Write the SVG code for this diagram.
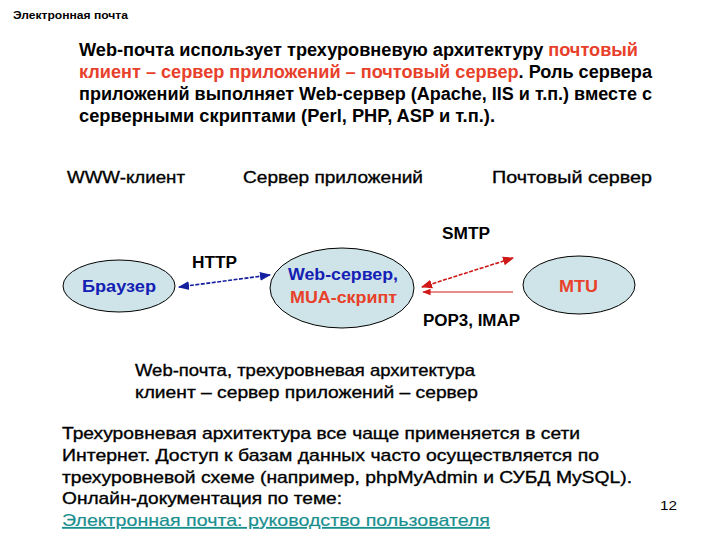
<svg xmlns="http://www.w3.org/2000/svg" width="720" height="540" viewBox="0 0 720 540">
<defs>
<style>
text{font-family:"Liberation Sans",Arial,sans-serif;fill:#000}
.b{font-weight:bold}
.p{font-size:18px;font-weight:bold}
.red{fill:#e8402a}
.lbl{font-size:17px;stroke:#000;stroke-width:0.35}
.node{fill:#cfe4e8;stroke:#000;stroke-width:1}
.blue{fill:#1420b4}
.nr{fill:#e8402a}
.link{fill:#1a8f8f;stroke:#1a8f8f;stroke-width:0.2;text-decoration:underline}
</style>
<marker id="ab" viewBox="0 0 10 10" refX="9" refY="5" markerWidth="7" markerHeight="7" orient="auto-start-reverse"><path d="M0,1 L10,5 L0,9 z" fill="#1420a0"/></marker>
<marker id="ar" viewBox="0 0 10 10" refX="9" refY="5" markerWidth="7" markerHeight="7" orient="auto-start-reverse"><path d="M0,1 L10,5 L0,9 z" fill="#d01818"/></marker>
</defs>
<rect width="720" height="540" fill="#fff"/>
<text x="13" y="19" class="b" font-size="10.5" textLength="115" lengthAdjust="spacingAndGlyphs">Электронная почта</text>

<g id="intro">
<text x="79" y="56" class="p" textLength="559" lengthAdjust="spacingAndGlyphs">Web-почта использует трехуровневую архитектуру <tspan class="red">почтовый</tspan></text>
<text x="79" y="78" class="p" textLength="573" lengthAdjust="spacingAndGlyphs"><tspan class="red">клиент – сервер приложений – почтовый сервер</tspan>. Роль сервера</text>
<text x="79" y="100" class="p" textLength="573" lengthAdjust="spacingAndGlyphs">приложений выполняет Web-сервер (Apache, IIS и т.п.) вместе с</text>
<text x="79" y="122" class="p" textLength="416" lengthAdjust="spacingAndGlyphs">серверными скриптами (Perl, PHP, ASP и т.п.).</text>
</g>

<g id="tiers">
<text x="67" y="183" class="lbl" textLength="118" lengthAdjust="spacingAndGlyphs">WWW-клиент</text>
<text x="243" y="183" class="lbl" textLength="180" lengthAdjust="spacingAndGlyphs">Сервер приложений</text>
<text x="492" y="183" class="lbl" textLength="160" lengthAdjust="spacingAndGlyphs">Почтовый сервер</text>
</g>

<g id="connectors">
<line x1="179" y1="287" x2="270" y2="275" stroke="#1420a0" stroke-width="1.6" stroke-dasharray="4,1.5" marker-start="url(#ab)" marker-end="url(#ab)"/>
<line x1="422" y1="287" x2="513" y2="258" stroke="#d01818" stroke-width="1.6" stroke-dasharray="4,1.5" marker-start="url(#ar)" marker-end="url(#ar)"/>
<line x1="513" y1="292" x2="423" y2="292" stroke="#d01818" stroke-width="1.2" marker-end="url(#ar)"/>
<text x="192" y="268" class="b" font-size="16" textLength="45" lengthAdjust="spacingAndGlyphs">HTTP</text>
<text x="442" y="239" class="b" font-size="16" textLength="48" lengthAdjust="spacingAndGlyphs">SMTP</text>
<text x="423" y="326" class="b" font-size="16" textLength="97" lengthAdjust="spacingAndGlyphs">POP3, IMAP</text>
</g>

<g id="browser">
<ellipse class="node" cx="119" cy="286" rx="56" ry="26"/>
<text x="82" y="292" class="b blue" font-size="17" textLength="74" lengthAdjust="spacingAndGlyphs">Браузер</text>
</g>
<g id="webserver">
<ellipse class="node" cx="342" cy="288" rx="72" ry="40"/>
<text x="288" y="280" class="b blue" font-size="17" textLength="110" lengthAdjust="spacingAndGlyphs">Web-сервер,</text>
<text x="290" y="303" class="b nr" font-size="17" textLength="107" lengthAdjust="spacingAndGlyphs">MUA-скрипт</text>
</g>
<g id="mtu">
<ellipse class="node" cx="579" cy="285" rx="56" ry="29"/>
<text x="559" y="292" class="b nr" font-size="17" textLength="39" lengthAdjust="spacingAndGlyphs">MTU</text>
</g>

<g id="caption">
<text x="135" y="376" class="lbl" textLength="340" lengthAdjust="spacingAndGlyphs">Web-почта, трехуровневая архитектура</text>
<text x="135" y="398" class="lbl" textLength="343" lengthAdjust="spacingAndGlyphs">клиент – сервер приложений – сервер</text>
</g>

<g id="outro">
<text x="62" y="439" class="lbl" textLength="518" lengthAdjust="spacingAndGlyphs">Трехуровневая архитектура все чаще применяется в сети</text>
<text x="62" y="461" class="lbl" textLength="537" lengthAdjust="spacingAndGlyphs">Интернет. Доступ к базам данных часто осуществляется по</text>
<text x="62" y="483" class="lbl" textLength="570" lengthAdjust="spacingAndGlyphs">трехуровневой схеме (например, phpMyAdmin и СУБД MySQL).</text>
<text x="62" y="504" class="lbl" textLength="280" lengthAdjust="spacingAndGlyphs">Онлайн-документация по теме:</text>
<text x="62" y="526" font-size="17" class="link" textLength="428" lengthAdjust="spacingAndGlyphs">Электронная почта: руководство пользователя</text>
<text x="660" y="510" font-size="13" textLength="17" lengthAdjust="spacingAndGlyphs">12</text>
</g>
</svg>
